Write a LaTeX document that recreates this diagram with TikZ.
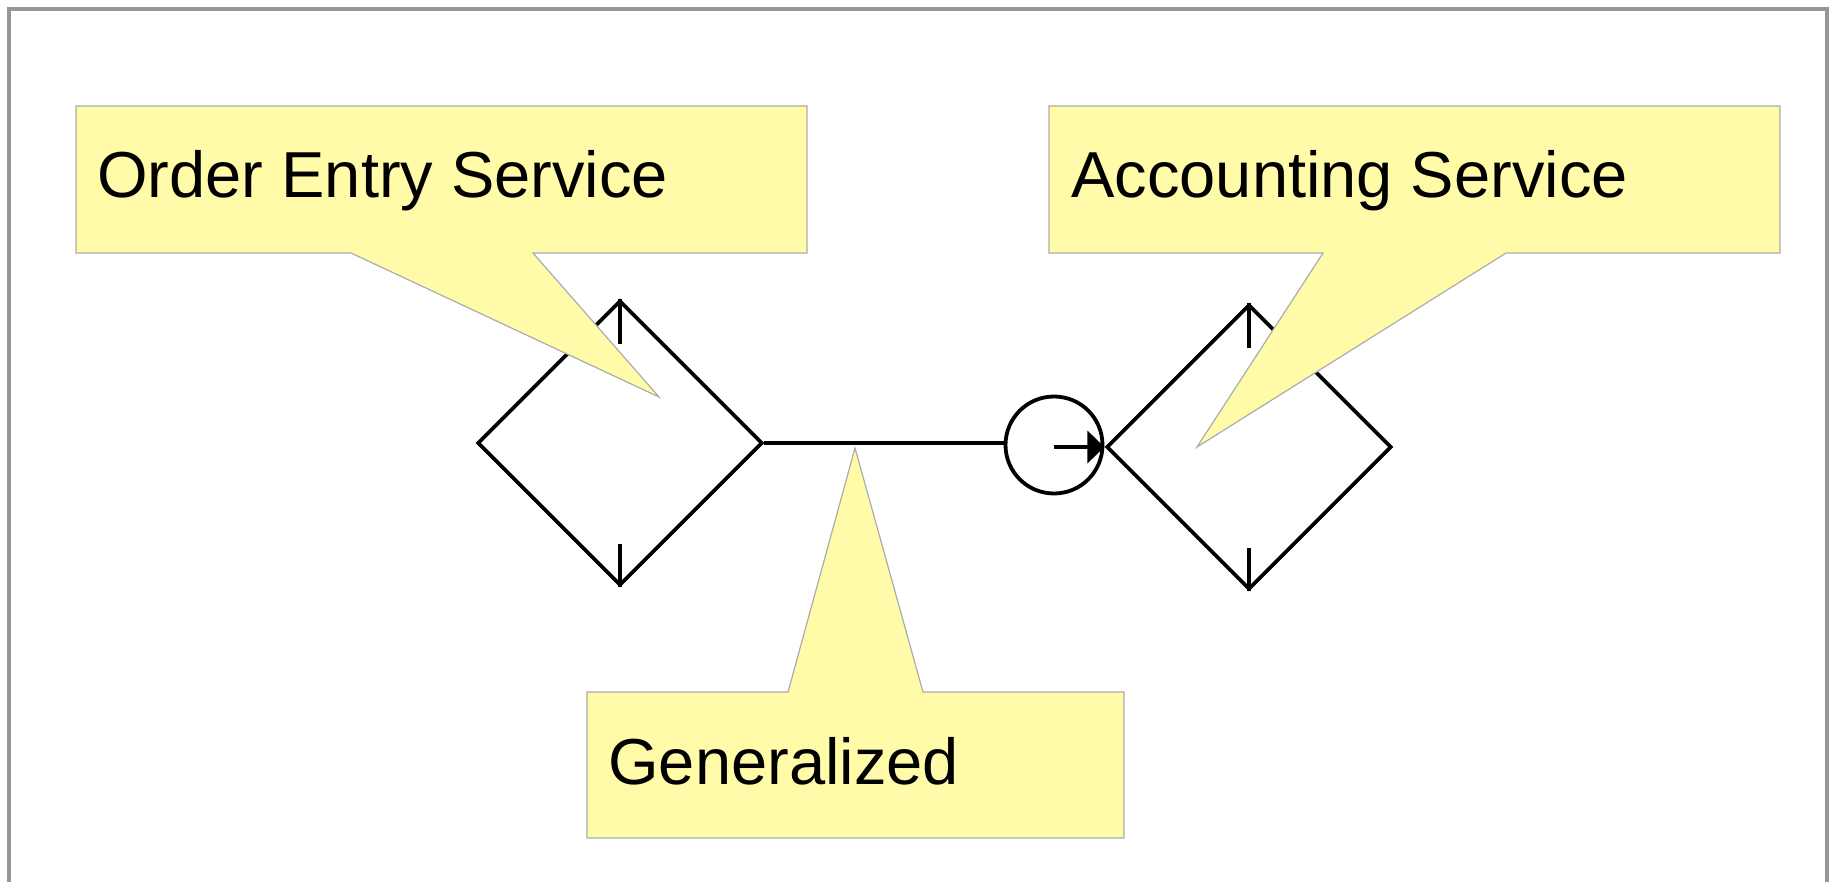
\documentclass[tikz,border=0pt]{standalone}
\usepackage{fontspec}
\setmainfont{Liberation Sans}
\usepackage{tikz}
\usetikzlibrary{positioning}
\usetikzlibrary{calc,arrows.meta}
\usetikzlibrary{shapes.geometric}

\definecolor{NoteYellow}{RGB}{255,251,168}
\definecolor{NoteEdge}{RGB}{172,172,172}
\definecolor{FrameGray}{RGB}{150,150,150}

\begin{document}
\begin{tikzpicture}[x=0.5pt, y=-0.5pt,
	service/.style={diamond, draw=black, line width=1.9pt, aspect=1, inner sep=0pt, minimum width=142.5pt, minimum height=142.5pt},
	joint/.style={circle, draw=black, line width=1.9pt, inner sep=0pt, minimum size=48.5pt},
	wire/.style={line width=1.9pt},
	tick/.style={line width=1.6pt},
	note/.style={fill=NoteYellow, draw=NoteEdge, line width=0.6pt},
	notetext/.style={anchor=base west, inner sep=0pt, font=\fontsize{32.5}{38}\selectfont},
	]
	
	\useasboundingbox (0,0) rectangle (1837,882);
	
	% ---------------------
	% Frame
	\draw[FrameGray, line width=1.9pt] (9,900) -- (9,9) -- (1827,9) -- (1827,900);
	
	% ---------------------
	% Services & joint
	\node[service] (Left) at (620,443) {};
	\node[service] (Right) at (1249,447) {};
	\node[joint] (Joint) at (1054,445) {};
	
	\draw[tick] (Left.north) -- +(0,45);
	\draw[tick] (Left.south) -- +(0,-43);
	\draw[tick] (Right.north) -- +(0,45);
	\draw[tick] (Right.south) -- +(0,-43);
	
	\draw[wire] (Left.east) -- (Left.east -| Joint.west);
	\draw[wire, -{Triangle[length=8.5pt, width=16pt]}] (Joint.center) ++(0,2) coordinate (JointMid) -- (JointMid -| Joint.east);
	
	% ------------------------------------------------
	% Note: order entry
	\coordinate (OrderNW) at (76,106);
	\path (OrderNW) +(731,147) coordinate (OrderSE);
	\path (OrderNW) +(275,147) coordinate (OrderBaseL);
	\path (OrderNW) +(457,147) coordinate (OrderBaseR);
	\path (Left.center) +(39,-46) coordinate (OrderTip);
	\draw[note] (OrderNW) -| (OrderSE) -- (OrderBaseR) -- (OrderTip) -- (OrderBaseL) -- (OrderNW |- OrderSE) -- cycle;
	\path (OrderNW) +(21,92) node[notetext] (OrderText) {Order Entry Service};
	
	% ------------------------------------------------
	% Note: accounting
	\coordinate (AccountNW) at (1049,106);
	\path (AccountNW) +(731,147) coordinate (AccountSE);
	\path (AccountNW) +(274,147) coordinate (AccountBaseL);
	\path (AccountNW) +(457,147) coordinate (AccountBaseR);
	\path (Right.center) +(-52,0) coordinate (AccountTip);
	\draw[note] (AccountNW) -| (AccountSE) -- (AccountBaseR) -- (AccountTip) -- (AccountBaseL) -- (AccountNW |- AccountSE) -- cycle;
	\path (AccountNW) +(22,92) node[notetext] (AccountText) {Accounting Service};
	
	% ------------------------------------------------
	% Note: generalized
	\coordinate (GeneralNW) at (587,692);
	\path (GeneralNW) +(537,146) coordinate (GeneralSE);
	\path (GeneralNW) +(201,0) coordinate (GeneralBaseL);
	\path (GeneralNW) +(336,0) coordinate (GeneralBaseR);
	\coordinate (GeneralTip) at (855,448);
	\draw[note] (GeneralNW) -- (GeneralBaseL) -- (GeneralTip) -- (GeneralBaseR) -- (GeneralNW -| GeneralSE) -- (GeneralSE) -- (GeneralNW |- GeneralSE) -- cycle;
	\path (GeneralNW) +(21,92) node[notetext] (GeneralText) {Generalized};
	
\end{tikzpicture}
\end{document}
